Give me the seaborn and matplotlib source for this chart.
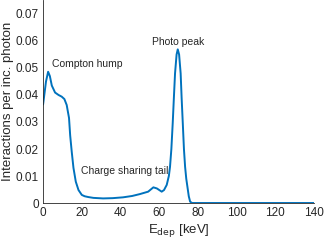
import matplotlib
matplotlib.use("Agg")
import matplotlib.pyplot as plt
import seaborn as sns
import pandas as pd

# deposited energy [keV] and interactions per incident photon
e_dep = [0, 1.5, 2.6, 3.5, 4.5, 6.2, 8, 9.6, 11, 12.2, 13.4, 14, 14.8, 15.7,
         16.9, 18.3, 20, 21.5, 23.4, 26, 31, 36, 41.3, 46, 50, 54.3, 57, 58.8,
         61.3, 62.5, 63.9, 65, 65.6, 66.3, 67, 67.6, 68.2, 69, 69.6, 70.3, 71.1,
         71.6, 72.2, 72.8, 73.4, 74, 74.6, 75.3, 76, 77, 80, 140]
interactions = [0.0365, 0.045, 0.0486, 0.047, 0.0435, 0.0409, 0.0400, 0.0394,
                0.0385, 0.0363, 0.0315, 0.025, 0.019, 0.013, 0.0079, 0.0048,
                0.0030, 0.0025, 0.0022, 0.0019, 0.0017, 0.0018, 0.0021, 0.0026,
                0.0033, 0.0042, 0.0058, 0.0054, 0.0042, 0.0048, 0.0067, 0.0100,
                0.0134, 0.020, 0.0296, 0.039, 0.048, 0.055, 0.0569, 0.055, 0.048,
                0.039, 0.0296, 0.020, 0.0134, 0.009, 0.006, 0.0025, 0.0005, 0,
                0, 0]

x_ticks = [0, 20, 40, 60, 80, 100, 120, 140]
y_ticks = [0, 0.01, 0.02, 0.03, 0.04, 0.05, 0.06, 0.07]
y_tick_labels = ["0", "0.01", "0.02", "0.03", "0.04", "0.05", "0.06", "0.07"]

df = pd.DataFrame({"E": e_dep, "N": interactions})

sns.set_style("white")
plt.rcParams["font.family"] = ["Liberation Sans", "DejaVu Sans"]
axis_col = (0.15, 0.15, 0.15)

fig = plt.figure(figsize=(3.24, 2.44), dpi=100)
ax = fig.add_axes([0.133, 0.168, 0.836, 0.830])
sns.lineplot(data=df, x="E", y="N", ax=ax, color="#0072BD", linewidth=1.4)

ax.set_xlim(0, 140)
ax.set_ylim(0, 0.075)
ax.set_xticks(x_ticks)
ax.set_xticklabels([str(t) for t in x_ticks])
ax.set_yticks(y_ticks)
ax.set_yticklabels(y_tick_labels)
ax.tick_params(direction="in", length=3, width=0.6, colors=axis_col,
               labelsize=8.5, labelcolor=axis_col, pad=3)
for side in ["top", "right"]:
    ax.spines[side].set_visible(False)
for side in ["left", "bottom"]:
    ax.spines[side].set_color(axis_col)
    ax.spines[side].set_linewidth(0.6)

ax.set_xlabel(r"E$_{\mathrm{dep}}$ [keV]", fontsize=9.5, color=axis_col, labelpad=2)
ax.set_ylabel("Interactions per inc. photon", fontsize=9.5, color=axis_col, labelpad=1)

ax.text(4.6, 0.0515, "Compton hump", fontsize=7.5, color=axis_col, va="center")
ax.text(69.8, 0.0596, "Photo peak", fontsize=7.5, color=axis_col, ha="center", va="center")
ax.text(19.6, 0.0119, "Charge sharing tail", fontsize=7.5, color=axis_col, va="center")

fig.savefig("out.png", dpi=100)
